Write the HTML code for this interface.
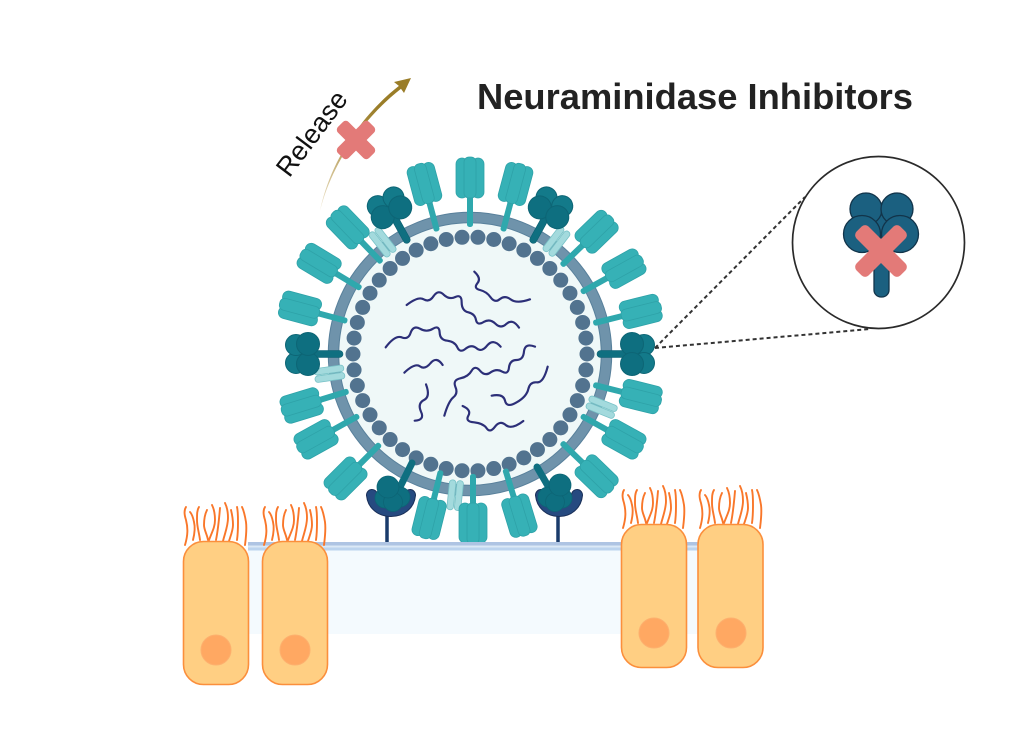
<!DOCTYPE html>
<html>
<head>
<meta charset="utf-8">
<title>Neuraminidase Inhibitors</title>
<style>
html,body{margin:0;padding:0;background:#fff;width:1035px;height:740px;overflow:hidden}
svg{display:block;filter:blur(.35px)}
text{font-family:"Liberation Sans",sans-serif}
</style>
</head>
<body>
<svg width="1035" height="740" viewBox="0 0 1035 740" xmlns="http://www.w3.org/2000/svg">
<defs>
<g id="ha">
  <rect x="467" y="196" width="6" height="31" rx="2.5" fill="#2fa8ad"/>
  <rect x="456" y="158" width="12" height="40" rx="6" fill="#36b1b6" stroke="#2ea2a8" stroke-width=".8"/>
  <rect x="472" y="158" width="12" height="40" rx="6" fill="#36b1b6" stroke="#2ea2a8" stroke-width=".8"/>
  <rect x="464" y="157" width="12" height="41" rx="5" fill="#36b1b6" stroke="#2ea2a8" stroke-width=".8"/>
</g>
<g id="na">
  <rect x="466.500" y="198" width="7" height="29" rx="3.500" fill="#0f6f80" stroke="#0c5f70" stroke-width=".6"/>
  <circle cx="461" cy="180" r="10.500" fill="#137a8a" stroke="#0d6575"/>
  <circle cx="479" cy="180" r="10.500" fill="#137a8a" stroke="#0d6575"/>
  <circle cx="460" cy="192" r="11.500" fill="#0e6f80" stroke="#0d6575"/>
  <circle cx="480" cy="192" r="11.500" fill="#0e6f80" stroke="#0d6575"/>
</g>
<g id="m2">
  <rect x="463" y="197" width="6.500" height="30" rx="3" fill="#a3dadd" stroke="#78c2c7" stroke-width=".8"/>
  <rect x="470.500" y="197" width="6.500" height="30" rx="3" fill="#a3dadd" stroke="#78c2c7" stroke-width=".8"/>
</g>
<g id="cilia" fill="none" stroke="#f9772a" stroke-width="1.900" stroke-linecap="round">
  <path d="M185 545C188 535 188 528 186 520C184 514 184 510 186 507"/>
  <path d="M193 540C195 532 195 526 194 522C193 517 192 514 190 512"/>
  <path d="M200 540C199 532 197 527 197 520C197 514 197 510 199 507"/>
  <path d="M208 540C207 534 204 530 204 525C204 519 205 514 207 510"/>
  <path d="M209 540C212 532 215 527 215 520C215 514 214 509 212 505"/>
  <path d="M216 540C218 530 219 520 220 508"/>
  <path d="M223 541C225 533 228 526 228 518C228 512 227 507 225 503"/>
  <path d="M229 541C231 535 233 530 233 525C233 519 232 514 231 510"/>
  <path d="M237 540C238 533 238 528 238 522C238 516 238 511 237 507"/>
  <path d="M245 545C246 537 247 530 246 522C245 516 244 511 242 507"/>
</g>
<linearGradient id="arrowGrad" gradientUnits="userSpaceOnUse" x1="320" y1="211" x2="375" y2="105">
  <stop offset="0" stop-color="#f1e8d0"/>
  <stop offset=".6" stop-color="#b49a55"/>
  <stop offset="1" stop-color="#9a7d28"/>
</linearGradient>
</defs>

<rect width="1035" height="740" fill="#fff"/>

<!-- Release arrow -->
<path d="M320 211C328 170 355 120 400 85L402 88C358 122 330 170 320 211Z" fill="url(#arrowGrad)"/>
<polygon points="411,78 394,82 399,86 404,93" fill="#9a7d28"/>
<text x="0" y="0" transform="translate(319 139) rotate(-53)" font-size="27" text-anchor="middle" fill="#111">Release</text>
<g fill="#e37a78">
  <rect x="334" y="132.500" width="44" height="15" rx="4" transform="rotate(45 356 140)"/>
  <rect x="334" y="132.500" width="44" height="15" rx="4" transform="rotate(-45 356 140)"/>
</g>

<!-- Title -->
<text x="477" y="109" font-size="36" font-weight="bold" fill="#222" textLength="436" lengthAdjust="spacingAndGlyphs">Neuraminidase Inhibitors</text>

<!-- Substrate -->
<rect x="248" y="550" width="450" height="84" fill="#f4fafe"/>

<!-- Receptors -->
<g fill="none" stroke-linecap="round">
  <path d="M387 514V543M558 514V543" stroke="#1a3b6b" stroke-width="3.500"/>
  <path d="M372 495C373 505 381 511 391 511C401 511 409 505 410 495" stroke="#1a2f58" stroke-width="12"/>
  <path d="M372 495C373 505 381 511 391 511C401 511 409 505 410 495" stroke="#264a80" stroke-width="10"/>
  <path d="M541 495C542 505 550 511 559 511C568 511 576 505 577 495" stroke="#1a2f58" stroke-width="12"/>
  <path d="M541 495C542 505 550 511 559 511C568 511 576 505 577 495" stroke="#264a80" stroke-width="10"/>
</g>

<!-- Virus envelope -->
<circle cx="470" cy="354" r="131" fill="#eff8f8"/>
<circle cx="470" cy="354" r="136.500" fill="none" stroke="#58809b" stroke-width="11.500"/>
<circle cx="470" cy="354" r="136.500" fill="none" stroke="#6f93ab" stroke-width="9.500"/>
<circle cx="470" cy="354" r="117" fill="none" stroke="#52738f" stroke-width="15" stroke-linecap="round" pathLength="46" stroke-dasharray="0 1"/>

<!-- M2 channels -->
<use href="#m2" transform="rotate(322 470 354)"/>
<use href="#m2" transform="rotate(37.500 470 354)"/>
<use href="#m2" transform="rotate(112 470 354)"/>
<use href="#m2" transform="rotate(262 470 354)"/>
<use href="#m2" transform="rotate(186 470 354)"/>

<!-- HA spikes -->
<use href="#ha" transform="rotate(0 470 354)"/>
<use href="#ha" transform="rotate(15 470 354)"/>
<use href="#ha" transform="rotate(46 470 354)"/>
<use href="#ha" transform="rotate(61 470 354)"/>
<use href="#ha" transform="rotate(76 470 354)"/>
<use href="#ha" transform="rotate(104 470 354)"/>
<use href="#ha" transform="rotate(119 470 354)"/>
<use href="#ha" transform="rotate(134 470 354)"/>
<use href="#ha" transform="rotate(163 470 354) translate(0 7)"/>
<use href="#ha" transform="rotate(180 470 354) translate(-3 7)"/>
<use href="#ha" transform="rotate(194 470 354) translate(0 7)"/>
<use href="#ha" transform="rotate(225 470 354)"/>
<use href="#ha" transform="rotate(241 470 354)"/>
<use href="#ha" transform="rotate(253 470 354)"/>
<use href="#ha" transform="rotate(285 470 354)"/>
<use href="#ha" transform="rotate(301 470 354)"/>
<use href="#ha" transform="rotate(316 470 354)"/>
<use href="#ha" transform="rotate(345 470 354)"/>

<!-- NA spikes -->
<use href="#na" transform="rotate(331 470 354)"/>
<use href="#na" transform="rotate(29 470 354)"/>
<use href="#na" transform="rotate(90 470 354)"/>
<use href="#na" transform="rotate(270 470 354)"/>

<!-- Bound NA -->
<g stroke="#0d6575" stroke-width=".8" fill="#0e6f80">
  <path d="M412 463L400 487" stroke="#0f6f80" stroke-width="7" stroke-linecap="round" fill="none"/>
  <circle cx="385" cy="498" r="10"/>
  <circle cx="400" cy="497" r="10"/>
  <circle cx="393" cy="502" r="9.500"/>
  <circle cx="388" cy="487" r="11"/>
  <path d="M537 467L548 486" stroke="#0f6f80" stroke-width="7" stroke-linecap="round" fill="none"/>
  <circle cx="548" cy="497" r="10"/>
  <circle cx="562" cy="498" r="10"/>
  <circle cx="555" cy="502" r="9.500"/>
  <circle cx="560" cy="485" r="11"/>
</g>

<!-- RNA -->
<g transform="translate(340 220) scale(.33333)" fill="none" stroke="#2c2f78" stroke-width="6.500" stroke-linecap="round" stroke-linejoin="round">
  <path d="M200 255Q235 228 251 238Q268 248 281 228Q295 208 311 224Q328 240 346 231Q365 222 365 247Q365 272 385 277Q405 282 408 300Q412 318 431 306Q450 295 466 311Q483 328 500 311Q518 295 537 323"/>
  <path d="M403 155Q425 175 412 190Q400 205 420 210Q440 215 452 232Q465 250 480 237Q495 225 512 238Q530 252 570 238"/>
  <path d="M137 382Q165 345 185 352Q205 360 212 338Q220 315 240 326Q260 338 279 326Q298 315 299 338Q300 360 322 362Q345 365 352 382Q360 400 377 386Q395 372 410 385Q425 398 442 376Q460 355 482 380"/>
  <path d="M193 458Q225 428 240 439Q255 450 272 429Q290 408 308 435"/>
  <path d="M258 493Q272 530 252 540Q232 550 243 575Q255 600 224 602"/>
  <path d="M313 587Q325 545 340 532Q355 520 346 500Q338 480 361 475Q385 470 395 452Q405 435 420 452Q435 470 452 457Q470 445 487 455Q505 465 507 442Q510 420 530 420Q550 420 552 394Q555 368 585 380"/>
  <path d="M455 527Q490 520 495 542Q500 565 530 547Q560 530 565 507Q570 485 590 487Q610 490 623 440"/>
  <path d="M368 558Q395 570 385 587Q375 605 402 607Q430 610 440 625Q450 640 465 620Q480 600 497 615Q515 630 550 603"/>
</g>

<!-- Membrane -->
<rect x="248" y="542" width="450" height="3.500" fill="#aec4e3"/>
<rect x="248" y="545.500" width="450" height="2" fill="#dbe9f6"/>
<rect x="248" y="547.500" width="450" height="3" fill="#bcd4ee"/>

<!-- Cells -->
<use href="#cilia"/>
<use href="#cilia" transform="translate(79 0)"/>
<use href="#cilia" transform="translate(438 -17)"/>
<use href="#cilia" transform="translate(515 -17)"/>
<g fill="#ffcf83" stroke="#fb8f3c" stroke-width="1.600">
  <rect x="183.500" y="541.500" width="65" height="143" rx="20"/>
  <rect x="262.500" y="541.500" width="65" height="143" rx="20"/>
  <rect x="621.500" y="524.500" width="65" height="143" rx="20"/>
  <rect x="698" y="524.500" width="65" height="143" rx="20"/>
</g>
<g fill="#ffa862" stroke="#fdb06e" stroke-width="1">
  <circle cx="216" cy="650" r="15"/>
  <circle cx="295" cy="650" r="15"/>
  <circle cx="654" cy="633" r="15"/>
  <circle cx="731" cy="633" r="15"/>
</g>

<!-- Zoom lines -->
<path d="M655 348L805 197M655 348L870 329" stroke="#333" stroke-width="2" stroke-dasharray="4 3" fill="none"/>

<!-- Inset -->
<circle cx="878.500" cy="242.500" r="86" fill="#fff" stroke="#2a2a2a" stroke-width="1.700"/>
<rect x="874" y="260" width="15" height="37" rx="7" fill="#1b6080" stroke="#12344a" stroke-width="1.300"/>
<g fill="#1b6080" stroke="#12344a" stroke-width="1.300">
  <rect x="868" y="205" width="26" height="40" fill="#1b6080" stroke="none"/>
  <circle cx="866" cy="209" r="16"/>
  <circle cx="897" cy="209" r="16"/>
  <circle cx="862" cy="234" r="18.500"/>
  <circle cx="900" cy="234" r="18.500"/>
</g>
<g fill="#e37a78">
  <rect x="850" y="242.500" width="62" height="17" rx="5" transform="rotate(45 881 251)"/>
  <rect x="850" y="242.500" width="62" height="17" rx="5" transform="rotate(-45 881 251)"/>
</g>
</svg>
</body>
</html>
